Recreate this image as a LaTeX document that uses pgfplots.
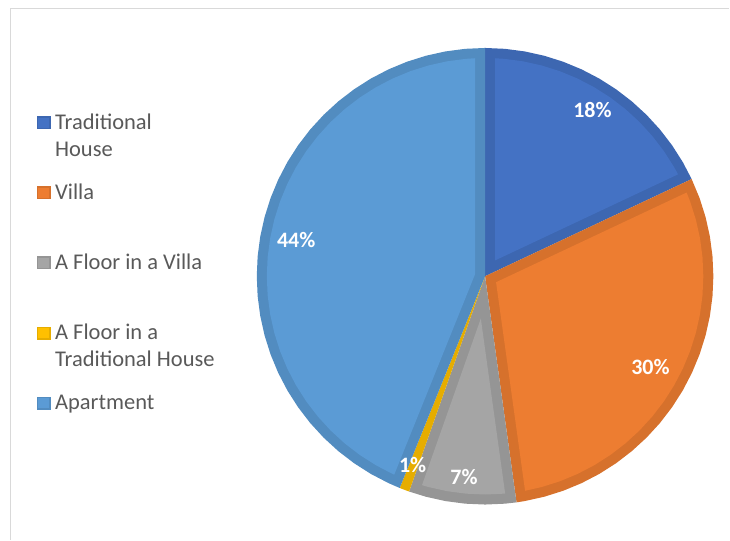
\documentclass[border=0pt]{standalone}
\usepackage{pgfplots}
\pgfplotsset{compat=1.18}
\usepackage{fontspec}
\setmainfont{Carlito}
\definecolor{tradL}{HTML}{4472C4}
\definecolor{tradD}{HTML}{3D67B1}
\definecolor{villaL}{HTML}{ED7D31}
\definecolor{villaD}{HTML}{D6712C}
\definecolor{grayL}{HTML}{A5A5A5}
\definecolor{grayD}{HTML}{959595}
\definecolor{goldL}{HTML}{FFC000}
\definecolor{goldD}{HTML}{E6AD00}
\definecolor{aptL}{HTML}{5B9BD5}
\definecolor{aptD}{HTML}{528CC0}
\definecolor{legtext}{HTML}{595959}
\definecolor{frame}{HTML}{D9D9D9}
\pgfplotsset{
  pieleg/.style 2 args={legend image code/.code={
    \fill[#2] (0bp,0bp) rectangle (14bp,13bp);
    \fill[#1] (1.5bp,1.5bp) rectangle (12.5bp,11.5bp);}},
}
\newcommand{\legbox}[1]{\parbox[t]{220bp}{\strut #1}}
\begin{document}
\begin{tikzpicture}
\begin{axis}[
  scale only axis, width=730bp, height=540bp,
  xmin=-2.1247, xmax=1.0700, ymin=-1.1532, ymax=1.2101,
  hide axis, clip=false,
  legend style={draw=none, fill=none, at={(0.05027,0.7959)}, anchor=north west,
    inner sep=0pt, outer sep=0pt, row sep=0pt, column sep=4.5bp,
    font=\fontsize{22.5bp}{27.3bp}\selectfont, text=legtext,
    nodes={inner sep=0pt, text height=19.1bp, text depth=51.1bp},
    cells={anchor=base west}},
]
% full chart area (bounding box)
\path (rel axis cs:0,0) rectangle (rel axis cs:1,1);
% frame of chart area
\draw[frame, line width=1.3bp] (rel axis cs:0.01438,0) -- (rel axis cs:0.01438,0.98463) -- (rel axis cs:1,0.98463);
% outer (dark) slices; shares: 18.0, 29.8, 7.6, 0.7, 43.9 %
\addplot[data cs=polar, fill=tradD, draw=none, pieleg={tradL}{tradD}] coordinates {
 (0,0) (25.2,1) (30,1) (35,1) (40,1) (45,1) (50,1) (55,1) (60,1) (65,1) (70,1) (75,1) (80,1) (85,1) (90,1)};
\addlegendentry{\legbox{Traditional\\House}}
\addplot[data cs=polar, fill=villaD, draw=none, pieleg={villaL}{villaD}] coordinates {
 (0,0) (-82.08,1) (-80,1) (-75,1) (-70,1) (-65,1) (-60,1) (-55,1) (-50,1) (-45,1) (-40,1) (-35,1) (-30,1) (-25,1) (-20,1) (-15,1) (-10,1) (-5,1) (0,1) (5,1) (10,1) (15,1) (20,1) (25.2,1)};
\addlegendentry{\legbox{Villa}}
\addplot[data cs=polar, fill=grayD, draw=none, pieleg={grayL}{grayD}] coordinates {
 (0,0) (-109.44,1) (-105,1) (-100,1) (-95,1) (-90,1) (-85,1) (-82.08,1)};
\addlegendentry{\legbox{A Floor in a Villa}}
\addplot[data cs=polar, fill=goldD, draw=none, pieleg={goldL}{goldD}] coordinates {
 (0,0) (-111.96,1) (-110.7,1) (-109.44,1)};
\addlegendentry{\legbox{A Floor in a\\Traditional House}}
\addplot[data cs=polar, fill=aptD, draw=none, pieleg={aptL}{aptD}] coordinates {
 (0,0) (90,1) (95,1) (100,1) (105,1) (110,1) (115,1) (120,1) (125,1) (130,1) (135,1) (140,1) (145,1) (150,1) (155,1) (160,1) (165,1) (170,1) (175,1) (180,1) (185,1) (190,1) (195,1) (200,1) (205,1) (210,1) (215,1) (220,1) (225,1) (230,1) (235,1) (240,1) (245,1) (248.04,1)};
\addlegendentry{\legbox{Apartment}}
% inner (light) parts
\addplot[data cs=polar, fill=tradL, draw=none, forget plot] coordinates {
 (57.6,0.0821) (27.84,0.956) (30,0.956) (35,0.956) (40,0.956) (45,0.956) (50,0.956) (55,0.956) (60,0.956) (65,0.956) (70,0.956) (75,0.956) (80,0.956) (85,0.956) (87.36,0.956)};
\addplot[data cs=polar, fill=villaL, draw=none, forget plot] coordinates {
 (-28.44,0.0547) (-79.44,0.956) (-75,0.956) (-70,0.956) (-65,0.956) (-60,0.956) (-55,0.956) (-50,0.956) (-45,0.956) (-40,0.956) (-35,0.956) (-30,0.956) (-25,0.956) (-20,0.956) (-15,0.956) (-10,0.956) (-5,0.956) (0,0.956) (5,0.956) (10,0.956) (15,0.956) (20,0.956) (22.56,0.956)};
\addplot[data cs=polar, fill=grayL, draw=none, forget plot] coordinates {
 (-95.76,0.1861) (-106.8,0.956) (-105,0.956) (-100,0.956) (-95,0.956) (-90,0.956) (-85,0.956) (-84.72,0.956)};
\addplot[data cs=polar, fill=aptL, draw=none, forget plot] coordinates {
 (169.02,0.0448) (92.64,0.956) (95,0.956) (100,0.956) (105,0.956) (110,0.956) (115,0.956) (120,0.956) (125,0.956) (130,0.956) (135,0.956) (140,0.956) (145,0.956) (150,0.956) (155,0.956) (160,0.956) (165,0.956) (170,0.956) (175,0.956) (180,0.956) (185,0.956) (190,0.956) (195,0.956) (200,0.956) (205,0.956) (210,0.956) (215,0.956) (220,0.956) (225,0.956) (230,0.956) (235,0.956) (240,0.956) (245,0.956) (245.4,0.956)};
% data labels
\addplot[data cs=polar, draw=none, mark=none, forget plot, nodes near coords, point meta=explicit symbolic,
  every node near coord/.append style={font=\bfseries\fontsize{22bp}{26bp}\selectfont, text=white, anchor=center, inner sep=0pt, text height=, text depth=}]
 coordinates {(57.15,0.8674)[18\%] (-28.8,0.8266)[30\%] (-96.0,0.8845)[7\%] (-111.0,0.885)[1\%] (169.07,0.8424)[44\%]};
\end{axis}
\end{tikzpicture}
\end{document}
